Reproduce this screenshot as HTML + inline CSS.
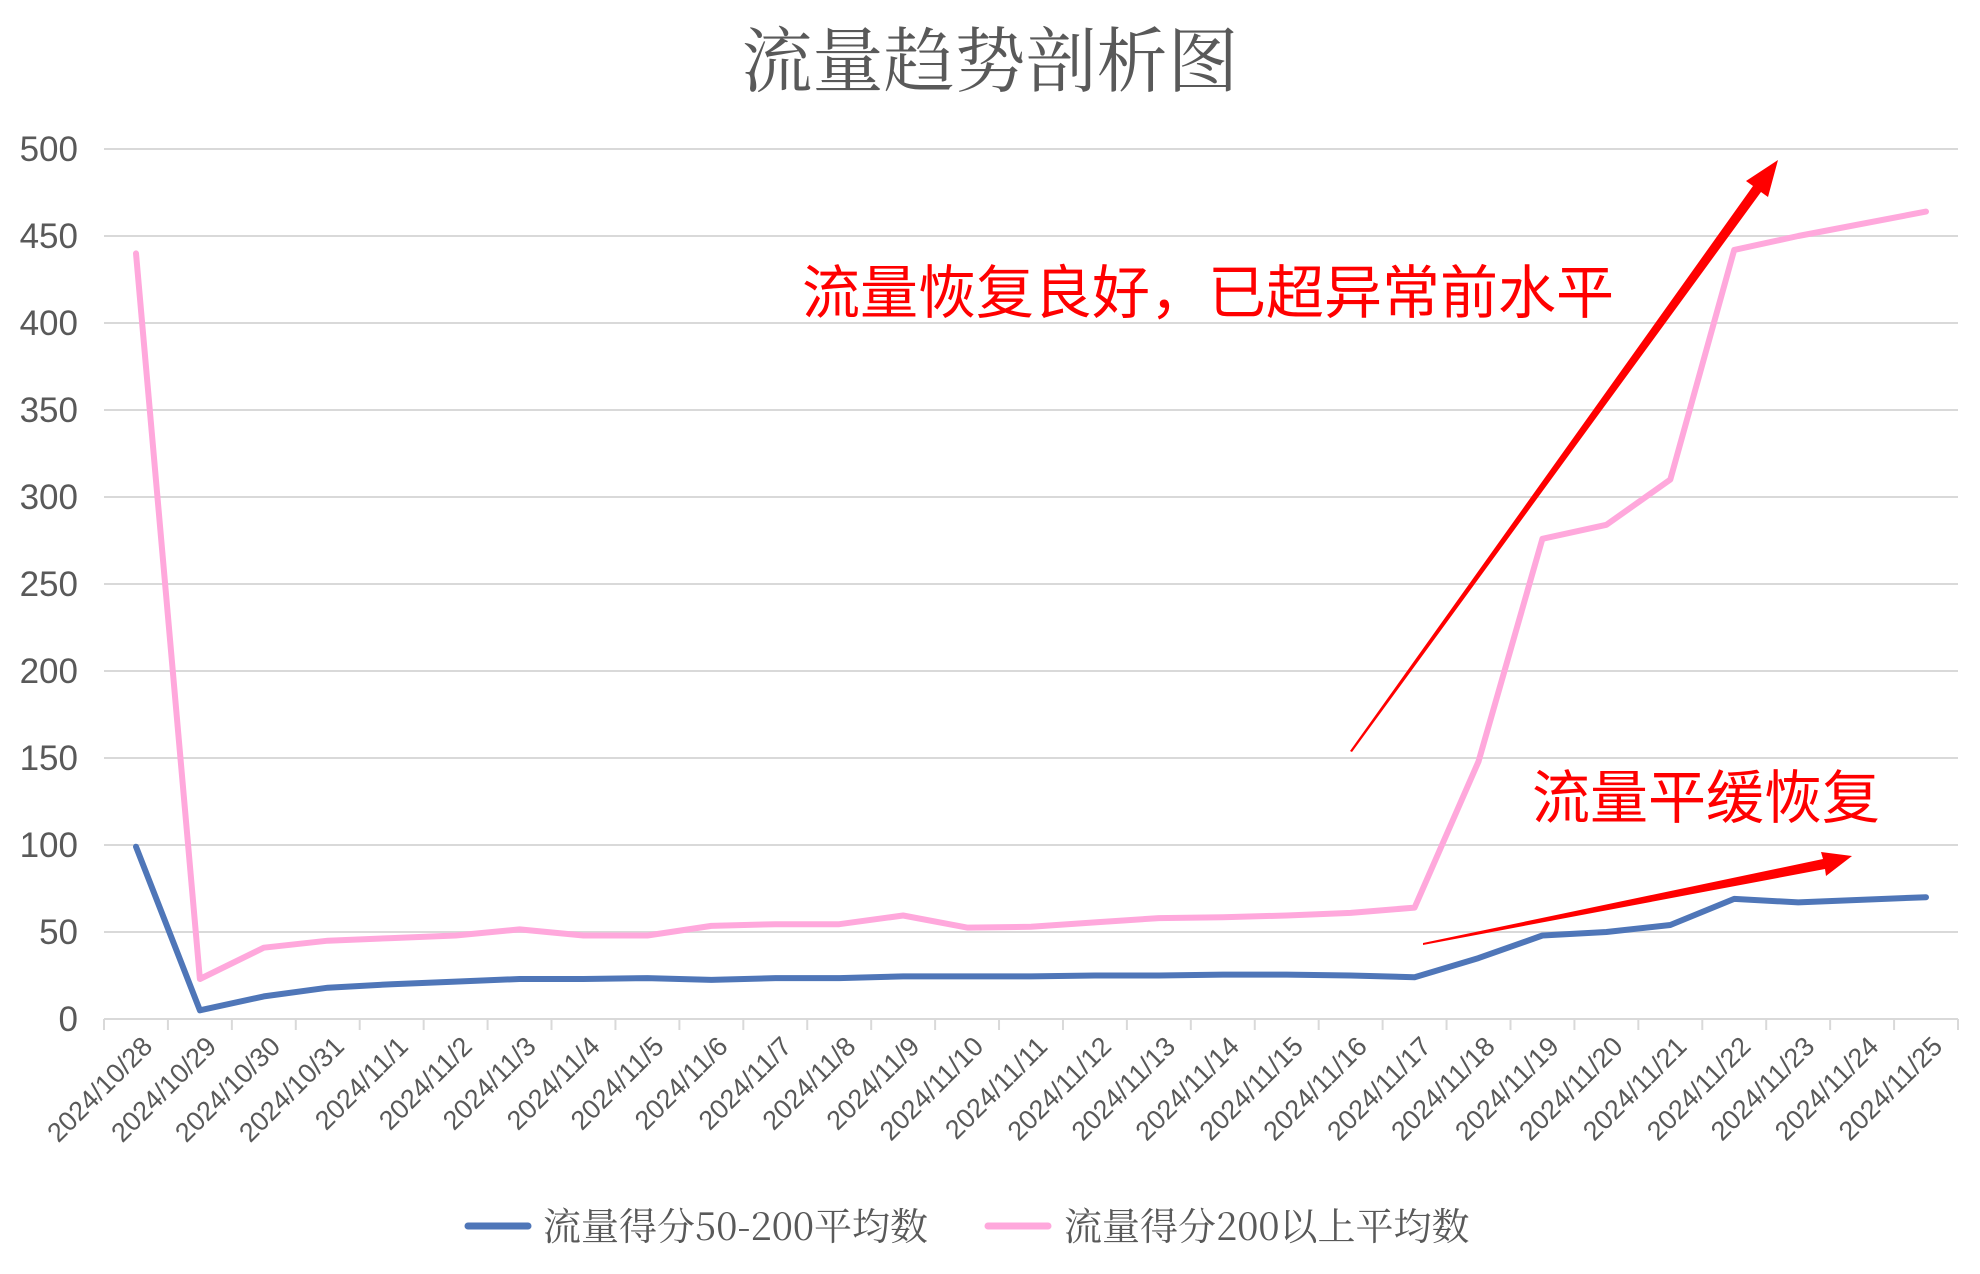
<!DOCTYPE html>
<html><head><meta charset="utf-8"><style>
html,body{margin:0;padding:0;background:#fff;}
svg{display:block;}
</style></head><body>
<svg id="chart" width="1980" height="1274" viewBox="0 0 1980 1274" xmlns="http://www.w3.org/2000/svg">
<rect width="1980" height="1274" fill="#fff"/>
<text x="990" y="86" text-anchor="middle" font-family="'Liberation Serif','Noto Serif CJK SC',serif" font-size="71" fill="#595959">流量趋势剖析图</text>
<g id="grid"></g><g id="xaxis"></g><g id="series"></g>
<text x="802" y="313" font-family="'Liberation Sans','Noto Sans CJK SC',sans-serif" font-size="58" fill="#ff0000">流量恢复良好，已超异常前水平</text>
<text x="1532" y="818" font-family="'Liberation Sans','Noto Sans CJK SC',sans-serif" font-size="58" fill="#ff0000">流量平缓恢复</text>
<polygon fill="#ff0000" points="1350,751 1753,186 1746,181 1778,160 1768,197 1761,192 1352,752"/>
<polygon fill="#ff0000" points="1423,943 1823,859 1821,852 1852,856 1826,876 1825,869 1423,945"/>
<g>
<line x1="468" y1="1226" x2="528" y2="1226" stroke="#4f76b8" stroke-width="7" stroke-linecap="round"/>
<text x="543" y="1240" font-family="'Noto Serif CJK SC','Liberation Serif',serif" font-size="38" fill="#595959">流量得分50-200平均数</text>
<line x1="988" y1="1226" x2="1048" y2="1226" stroke="#ffa8dc" stroke-width="7" stroke-linecap="round"/>
<text x="1064" y="1240" font-family="'Noto Serif CJK SC','Liberation Serif',serif" font-size="38" fill="#595959">流量得分200以上平均数</text>
</g>
</svg>
<script>
const categories = ["2024/10/28","2024/10/29","2024/10/30","2024/10/31","2024/11/1","2024/11/2","2024/11/3","2024/11/4","2024/11/5","2024/11/6","2024/11/7","2024/11/8","2024/11/9","2024/11/10","2024/11/11","2024/11/12","2024/11/13","2024/11/14","2024/11/15","2024/11/16","2024/11/17","2024/11/18","2024/11/19","2024/11/20","2024/11/21","2024/11/22","2024/11/23","2024/11/24","2024/11/25"];
const series50to200 = [99,5,13,18,20,21.5,23,23,23.5,22.5,23.5,23.5,24.5,24.5,24.5,25,25,25.5,25.5,25,24,35,48,50,54,69,67,null,70];
const series200plus = [440,23,41,45,46.5,48,51.5,48,48,53.5,54.5,54.5,59.5,52.5,53,55.5,58,58.5,59.5,61,64,148,276,284,310,442,450,null,464];
const yTicks = [0,50,100,150,200,250,300,350,400,450,500];

const NS = "http://www.w3.org/2000/svg";
const L = 104, R = 1958, T = 149, B = 1019, YMAX = 500;
const step = (R - L) / categories.length;
function xPos(i){ return L + step * (i + 0.5); }
function yPos(v){ return B - (v / YMAX) * (B - T); }
function mk(tag, attrs){ const e = document.createElementNS(NS, tag); for (const k in attrs) e.setAttribute(k, attrs[k]); return e; }

const grid = document.getElementById('grid');
yTicks.forEach(v => {
  const ln = mk('line', {x1:L, x2:R, y1:yPos(v), y2:yPos(v), stroke:'#d9d9d9', 'stroke-width':2});
  
  
  grid.appendChild(ln);
  const t = mk('text', {x:78, y:yPos(v)+12, 'text-anchor':'end', 'font-family':"'Liberation Sans',sans-serif", 'font-size':35, fill:'#595959'});
  
  
  t.textContent = v;
  grid.appendChild(t);
});

const xaxis = document.getElementById('xaxis');
for (let i = 0; i <= categories.length; i++) {
  const x = L + step * i;
  const tk = mk('line', {x1:x, x2:x, y1:B, y2:B+11, stroke:'#d9d9d9', 'stroke-width':2});
  
  
  xaxis.appendChild(tk);
}
categories.forEach((c, i) => {
  const ax = xPos(i) + 18, ay = 1048;
  const t = mk('text', {x:ax, y:ay, 'text-anchor':'end', transform:`rotate(-45 ${ax} ${ay})`, 'font-family':"'Liberation Sans',sans-serif", 'font-size':27, fill:'#595959'});
  
  
  t.textContent = c;
  xaxis.appendChild(t);
});

function drawSeries(vals, color, name){
  let d = '';
  vals.forEach((v, i) => { if (v === null) return; d += (d ? 'L' : 'M') + xPos(i).toFixed(1) + ',' + yPos(v).toFixed(1); });
  const p = mk('path', {d:d, fill:'none', stroke:color, 'stroke-width':6, 'stroke-linejoin':'round', 'stroke-linecap':'round'});
  
  
  document.getElementById('series').appendChild(p);
}
drawSeries(series200plus, '#ffa8dc', 'line-score-200-plus');
drawSeries(series50to200, '#4f76b8', 'line-score-50-200');
</script>
</body></html>
